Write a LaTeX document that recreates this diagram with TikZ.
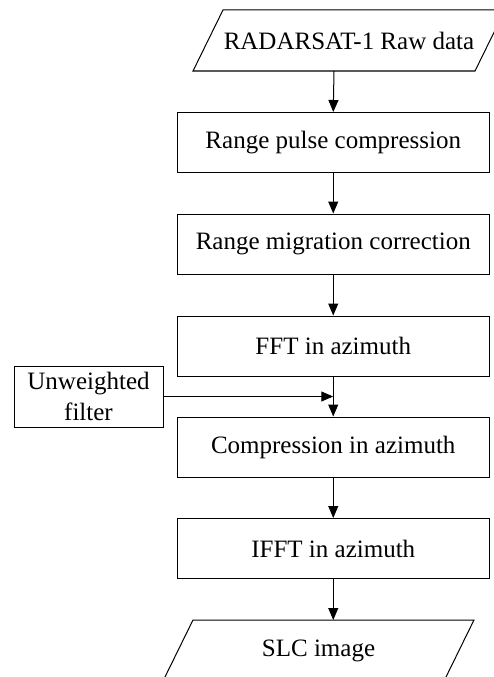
\documentclass[tikz,border=0pt]{standalone}
\usepackage{fontspec}
\setmainfont{Liberation Serif}
\usetikzlibrary{arrows.meta}
\begin{document}
\begin{tikzpicture}[x=1pt,y=-1pt,
  line width=1pt,
  font=\fontsize{25}{28}\selectfont,
  procbox/.style={draw, minimum width=311.5pt, minimum height=60pt, inner sep=0pt},
  iobox/.style={inner sep=0pt},
  flow/.style={-{Triangle[length=12pt,width=10pt]}}]
\useasboundingbox (0,0) rectangle (493,677);
% input parallelogram
\draw (193,71) -- (223,10) -- (505,10) -- (475,71) -- cycle;
\node[iobox] (in) at (349,40.5) {RADARSAT-1 Raw data};
\coordinate (inbot) at (334,71);
% process boxes
\node[procbox] (b1) at (333.25,142.5) {Range pulse compression};
\node[procbox] (b2) at (333.25,244) {Range migration correction};
\node[procbox] (b3) at (333.25,346) {FFT in azimuth};
\node[procbox] (b4) at (333.25,447) {Compression in azimuth};
\node[procbox] (b5) at (333.25,548.5) {IFFT in azimuth};
% side box
\node[draw, minimum width=149pt, minimum height=61pt, inner sep=0pt, align=center,
  font=\fontsize{25}{31}\selectfont] (uf) at (88.5,396.5) {Unweighted\\filter};
% output parallelogram
\draw (163,681) -- (193,620) -- (474,620) -- (444,681) -- cycle;
\node[iobox] (out) at (318.5,650.5) {SLC image};
\coordinate (outtop) at (333.25,620);
% connectors
\draw[flow] (inbot) -- (b1.north);
\draw[flow] (b1) -- (b2);
\draw[flow] (b2) -- (b3);
\draw[flow] (b3) -- (b4);
\draw[flow] (b4) -- (b5);
\draw[flow] (b5.south) -- (outtop);
\draw[flow] (uf.east) -- (uf.east -| b3.south);
\end{tikzpicture}
\end{document}
